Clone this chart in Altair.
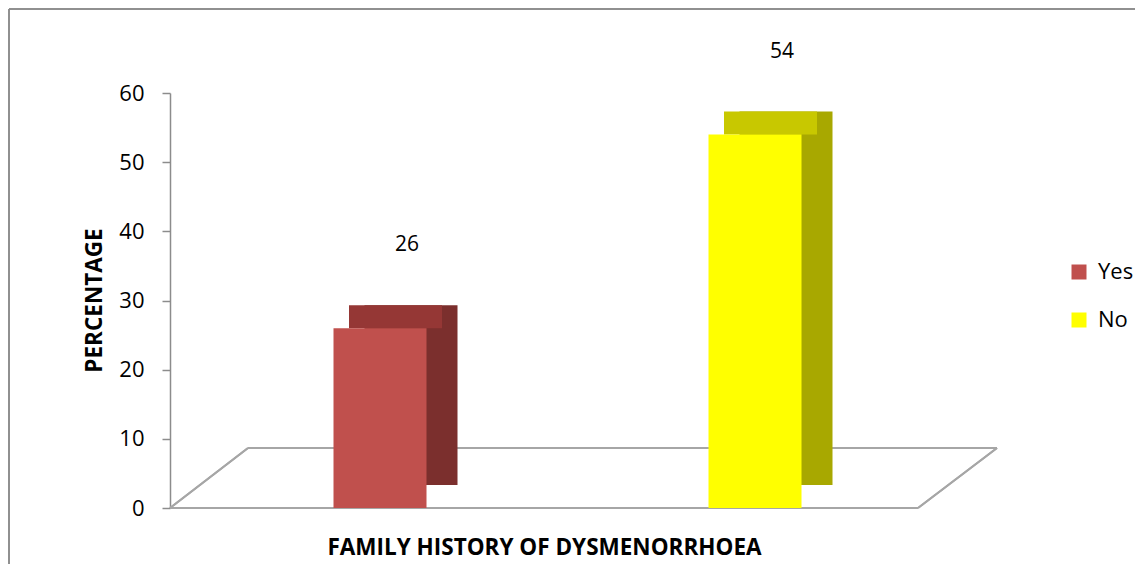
import altair as alt
import pandas as pd

categories = ["Yes", "No"]
values = [26, 54]

front_colors = ["#C0504D", "#FFFF00"]
side_colors = ["#7B2F2D", "#A8A800"]
top_colors = ["#953735", "#C8C800"]

df = pd.DataFrame({"category": categories, "value": values})

FONT = "Open Sans"

x_enc = alt.X(
    "category:N",
    sort=categories,
    scale=alt.Scale(paddingInner=0, paddingOuter=0.06),
    axis=alt.Axis(
        labels=False, ticks=False, domain=False,
        title="FAMILY HISTORY OF DYSMENORRHOEA",
        titleFont=FONT, titleFontSize=22.5, titleFontWeight="bold", titleColor="black",
        titleX=374, titleY=39, titleBaseline="middle", titleAlign="center",
    ),
)
y_enc = alt.Y(
    "value:Q",
    scale=alt.Scale(domain=[0, 60], nice=False),
    axis=alt.Axis(
        values=[0, 10, 20, 30, 40, 50, 60], grid=False,
        domainColor="#8c8c8c", tickColor="#8c8c8c", tickSize=8, domainWidth=1.5, tickWidth=1.5,
        labelFont=FONT, labelFontSize=22, labelColor="black", labelPadding=18,
        title="PERCENTAGE", titleFont=FONT, titleFontSize=22.5, titleFontWeight="bold",
        titleColor="black", titleAngle=-90, titleX=-76, titleY=207,
        titleAlign="center", titleBaseline="middle",
    ),
)

base = alt.Chart(df)

side = base.mark_bar(width=93, xOffset=31, yOffset=-23).encode(
    x=x_enc, y=y_enc,
    color=alt.Color("category:N", sort=categories,
                    scale=alt.Scale(domain=categories, range=side_colors), legend=None),
)
top = base.mark_tick(orient="horizontal", size=93, thickness=23, xOffset=15.5, yOffset=-11.5, opacity=1).encode(
    x=x_enc, y=y_enc,
    color=alt.Color("category:N", sort=categories,
                    scale=alt.Scale(domain=categories, range=top_colors), legend=None),
)
front = base.mark_bar(width=93).encode(
    x=x_enc, y=y_enc,
    color=alt.Color("category:N", sort=categories,
                    scale=alt.Scale(domain=categories, range=front_colors),
                    legend=alt.Legend(
                        title=None, orient="none", legendX=898, legendY=168,
                        symbolType="square", symbolSize=225, symbolStrokeWidth=0,
                        labelFont=FONT, labelFontSize=22, labelColor="black",
                        labelOffset=8, rowPadding=26,
                    )),
)
labels = base.mark_text(dx=27, dy=-83, fontSize=21, font=FONT, color="black").encode(
    x=x_enc, y=y_enc, text=alt.Text("value:Q"),
)

floor_color = "#a6a6a6"
floor_front = alt.Chart(df).mark_rule(color=floor_color, strokeWidth=2).encode(
    x=alt.value(0), x2=alt.value(748), y=alt.value(415))
floor_back = alt.Chart(df).mark_rule(color=floor_color, strokeWidth=2).encode(
    x=alt.value(78), x2=alt.value(827), y=alt.value(355))
floor_left = alt.Chart(df).mark_rule(color=floor_color, strokeWidth=2).encode(
    x=alt.value(0), x2=alt.value(78), y=alt.value(415), y2=alt.value(355))
floor_right = alt.Chart(df).mark_rule(color=floor_color, strokeWidth=2).encode(
    x=alt.value(748), x2=alt.value(827), y=alt.value(415), y2=alt.value(355))

frame_left = alt.Chart(df).mark_rule(color="#898989", strokeWidth=1.5).encode(
    x=alt.value(-161), y=alt.value(-84), y2=alt.value(490))
frame_top = alt.Chart(df).mark_rule(color="#898989", strokeWidth=1.5).encode(
    x=alt.value(-161), x2=alt.value(1000), y=alt.value(-84))

chart = alt.layer(
    floor_front, floor_back, floor_left, floor_right,
    side, top, front, labels,
    frame_left, frame_top,
).resolve_scale(color="independent").properties(
    width=795, height=415,
    background="white",
    autosize=alt.AutoSizeParams(type="none"),
    padding={"left": 162, "top": 85, "right": 170, "bottom": 56},
).configure_view(strokeWidth=0, stroke="transparent")

chart.save("out.html", embed_options={"renderer": "svg", "actions": False})
